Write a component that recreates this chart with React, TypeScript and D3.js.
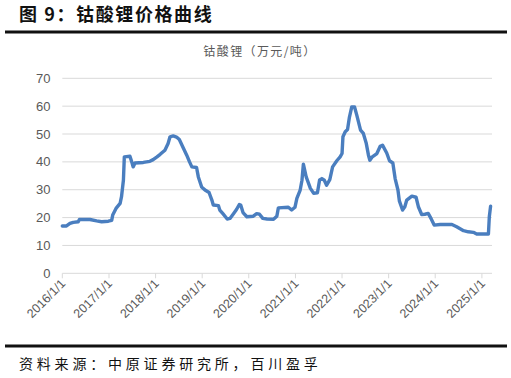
import React from "react";
import * as d3 from "d3";

const dates: string[] = [
  "2016-01-01","2016-02-03","2016-03-01","2016-03-27","2016-05-05","2016-05-14","2016-08-05","2016-09-26","2016-11-04","2016-12-27",
  "2017-01-22","2017-01-30","2017-02-25","2017-03-29","2017-04-09","2017-04-24","2017-05-01","2017-06-14","2017-06-28","2017-07-09","2017-07-24","2017-09-27","2017-11-17","2017-12-13",
  "2018-01-12","2018-02-06","2018-03-15","2018-04-09","2018-04-24","2018-05-19","2018-06-14","2018-07-06","2018-08-08","2018-09-02","2018-09-24","2018-10-12","2018-11-18","2018-12-02","2018-12-28",
  "2019-01-23","2019-02-24","2019-03-18","2019-03-29","2019-05-08","2019-05-19","2019-06-14","2019-07-16","2019-08-07","2019-09-02","2019-09-27","2019-10-19","2019-10-30","2019-11-17","2019-12-17",
  "2020-02-06","2020-03-03","2020-03-25","2020-04-20","2020-05-23","2020-07-13","2020-08-08","2020-08-20","2020-11-06","2020-12-02","2020-12-28",
  "2021-01-12","2021-02-07","2021-02-21","2021-03-04","2021-03-26","2021-04-28","2021-05-24","2021-06-22","2021-07-09","2021-07-27","2021-08-15","2021-09-02","2021-09-27","2021-10-19","2021-11-21","2021-12-17",
  "2022-01-01","2022-01-08","2022-01-26","2022-02-13","2022-02-28","2022-03-18","2022-04-09","2022-04-27","2022-05-26","2022-06-17","2022-07-09","2022-07-27","2022-08-07","2022-08-26","2022-10-01","2022-10-27","2022-11-14","2022-12-17",
  "2023-01-08","2023-02-03","2023-02-21","2023-03-15","2023-03-26","2023-04-20","2023-05-08","2023-05-23","2023-07-02","2023-08-04","2023-08-22","2023-09-17","2023-10-12","2023-11-07","2023-11-29","2023-12-24",
  "2024-02-09","2024-05-11","2024-06-17","2024-08-10","2024-09-16","2024-10-26","2024-11-21",
  "2025-02-21","2025-02-28","2025-03-10",
];

const prices: number[] = [
  17.0,17.0,17.9,18.3,18.5,19.3,19.3,18.8,18.5,18.7,
  19.0,20.9,23.3,25.1,27.5,33.5,41.8,42.0,40.0,38.2,39.6,39.8,40.2,40.8,
  41.8,42.7,44.2,46.6,49.0,49.3,48.9,48.0,44.8,42.4,40.0,38.2,38.0,34.6,31.0,
  29.9,29.0,26.3,24.5,24.3,22.7,21.3,19.5,19.7,21.3,22.9,24.7,24.5,21.8,20.3,
  20.5,21.4,21.2,19.7,19.5,19.4,20.5,23.5,23.7,22.7,23.7,
  26.9,29.9,33.4,39.2,34.6,30.5,28.7,28.9,33.5,34.0,33.4,31.6,33.6,38.2,40.4,41.8,
  43.0,49.0,50.8,51.6,56.1,59.7,59.7,56.7,51.4,50.2,46.8,42.4,40.6,41.8,43.0,45.6,46.0,43.2,
  40.4,39.6,34.0,29.9,26.0,22.7,23.9,26.3,27.7,27.3,23.9,21.1,21.2,21.5,19.7,17.3,
  17.5,17.5,16.7,15.3,14.9,14.7,14.1,
  14.1,20.3,24.1,
];

const yTicks: number[] = [0, 10, 20, 30, 40, 50, 60, 70];
const xTickYears: number[] = [2016, 2017, 2018, 2019, 2020, 2021, 2022, 2023, 2024, 2025];

const title = "图 9：钴酸锂价格曲线";
const seriesTitle = "钴酸锂（万元/吨）";
const source = "资料来源：中原证券研究所，百川盈孚";

export default function App() {
  const W = 511, H = 378;
  const left = 62.3, right = 492, top = 78.3, bottom = 273.3;
  const parse = d3.timeParse("%Y-%m-%d");
  const data = dates.map((d, i) => ({ t: parse(d) as Date, v: prices[i] }));
  const x = d3.scaleTime()
    .domain([new Date(2016, 0, 1), new Date(2025, 2, 21)])
    .range([left, right]);
  const y = d3.scaleLinear().domain([0, 70]).range([bottom, top]);
  const line = d3.line<{ t: Date; v: number }>()
    .x(d => x(d.t))
    .y(d => y(d.v))
    .curve(d3.curveLinear);
  const fmt = d3.timeFormat("%Y/%-m/%-d");
  const sans = "'Liberation Sans', Arial, sans-serif";
  const cjk = "'Noto Sans CJK SC', sans-serif";

  return (
    <svg width={W} height={H} style={{ position: "absolute", left: 0, top: 0, background: "#fff" }}>
      <rect x={0} y={0} width={W} height={H} fill="#fff" />
      <text x={19} y={21} fontFamily={cjk} fontWeight="bold" fontSize={18} letterSpacing={1.6} fill="#111">{title}</text>
      <rect x={5} y={30.5} width={502} height={3} fill="#111" />
      <text x={260} y={56} textAnchor="middle" fontFamily={cjk} fontSize={12} letterSpacing={1.4} fill="#595959">{seriesTitle}</text>
      {yTicks.map(t => (
        <g key={t}>
          <line x1={left} x2={right} y1={y(t)} y2={y(t)} stroke="#d9d9d9" strokeWidth={1} />
          <text x={50.5} y={y(t) + 4.5} textAnchor="end" fontFamily={sans} fontSize={13} fill="#595959">{t}</text>
        </g>
      ))}
      {xTickYears.map(yr => {
        const d = new Date(yr, 0, 1);
        const px = x(d);
        return (
          <g key={yr}>
            <line x1={px} x2={px} y1={bottom} y2={bottom + 5} stroke="#d9d9d9" strokeWidth={1} />
            <text transform={`translate(${px + 4},${bottom + 11}) rotate(-45)`} textAnchor="end" fontFamily={sans} fontSize={12.5} fill="#595959">{fmt(d)}</text>
          </g>
        );
      })}
      <path d={line(data) || ""} fill="none" stroke="#4A7EBF" strokeWidth={3.4} strokeLinejoin="round" strokeLinecap="round" />
      <rect x={5} y={344.5} width={502} height={3} fill="#111" />
      <text x={19} y={369} fontFamily={cjk} fontSize={14} letterSpacing={3.8} fill="#111">{source}</text>
    </svg>
  );
}
